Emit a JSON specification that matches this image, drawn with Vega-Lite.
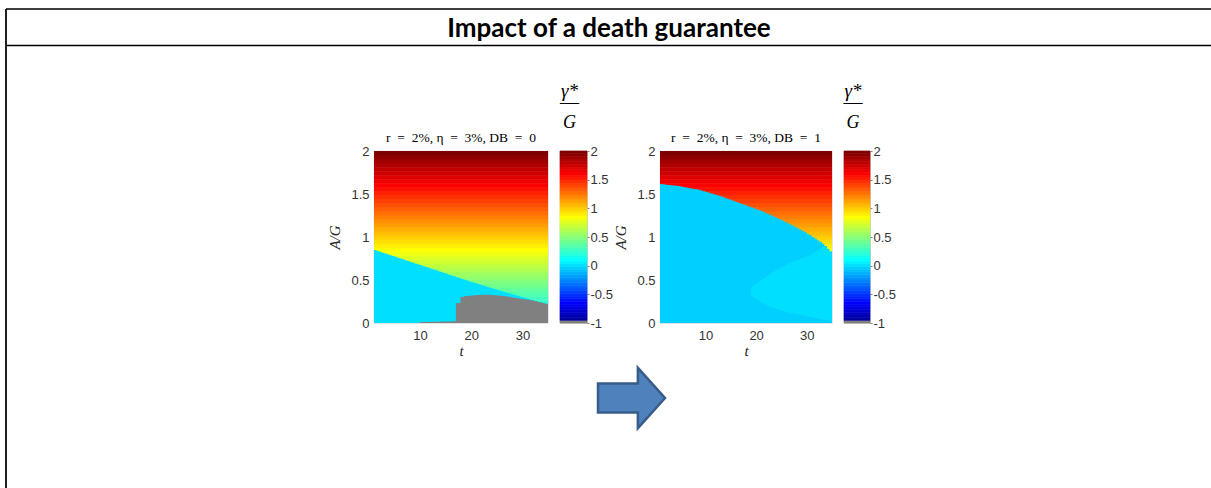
{
"$schema": "https://vega.github.io/schema/vega-lite/v6.json",
"padding": {"left": 4, "top": 7, "right": 0, "bottom": 0},
"background": "white",
"config": {
  "view": {"stroke": null},
  "axis": {"labelFont": "Liberation Sans", "labelFontSize": 13, "labelColor": "#333333", "ticks": false, "domain": false, "grid": false, "titleFont": "Liberation Serif", "titleFontStyle": "italic", "titleFontWeight": "normal", "titleFontSize": 15, "titleColor": "#262626"}
},
"datasets": {
  "bands": [
    {"k":0,"lo":-1,"hi":-0.953125},{"k":1,"lo":-0.953125,"hi":-0.90625},{"k":2,"lo":-0.90625,"hi":-0.859375},{"k":3,"lo":-0.859375,"hi":-0.8125},
    {"k":4,"lo":-0.8125,"hi":-0.765625},{"k":5,"lo":-0.765625,"hi":-0.71875},{"k":6,"lo":-0.71875,"hi":-0.671875},{"k":7,"lo":-0.671875,"hi":-0.625},
    {"k":8,"lo":-0.625,"hi":-0.578125},{"k":9,"lo":-0.578125,"hi":-0.53125},{"k":10,"lo":-0.53125,"hi":-0.484375},{"k":11,"lo":-0.484375,"hi":-0.4375},
    {"k":12,"lo":-0.4375,"hi":-0.390625},{"k":13,"lo":-0.390625,"hi":-0.34375},{"k":14,"lo":-0.34375,"hi":-0.296875},{"k":15,"lo":-0.296875,"hi":-0.25},
    {"k":16,"lo":-0.25,"hi":-0.203125},{"k":17,"lo":-0.203125,"hi":-0.15625},{"k":18,"lo":-0.15625,"hi":-0.109375},{"k":19,"lo":-0.109375,"hi":-0.0625},
    {"k":20,"lo":-0.0625,"hi":-0.015625},{"k":21,"lo":-0.015625,"hi":0.03125},{"k":22,"lo":0.03125,"hi":0.078125},{"k":23,"lo":0.078125,"hi":0.125},
    {"k":24,"lo":0.125,"hi":0.171875},{"k":25,"lo":0.171875,"hi":0.21875},{"k":26,"lo":0.21875,"hi":0.265625},{"k":27,"lo":0.265625,"hi":0.3125},
    {"k":28,"lo":0.3125,"hi":0.359375},{"k":29,"lo":0.359375,"hi":0.40625},{"k":30,"lo":0.40625,"hi":0.453125},{"k":31,"lo":0.453125,"hi":0.5},
    {"k":32,"lo":0.5,"hi":0.546875},{"k":33,"lo":0.546875,"hi":0.59375},{"k":34,"lo":0.59375,"hi":0.640625},{"k":35,"lo":0.640625,"hi":0.6875},
    {"k":36,"lo":0.6875,"hi":0.734375},{"k":37,"lo":0.734375,"hi":0.78125},{"k":38,"lo":0.78125,"hi":0.828125},{"k":39,"lo":0.828125,"hi":0.875},
    {"k":40,"lo":0.875,"hi":0.921875},{"k":41,"lo":0.921875,"hi":0.96875},{"k":42,"lo":0.96875,"hi":1.015625},{"k":43,"lo":1.015625,"hi":1.0625},
    {"k":44,"lo":1.0625,"hi":1.109375},{"k":45,"lo":1.109375,"hi":1.15625},{"k":46,"lo":1.15625,"hi":1.203125},{"k":47,"lo":1.203125,"hi":1.25},
    {"k":48,"lo":1.25,"hi":1.296875},{"k":49,"lo":1.296875,"hi":1.34375},{"k":50,"lo":1.34375,"hi":1.390625},{"k":51,"lo":1.390625,"hi":1.4375},
    {"k":52,"lo":1.4375,"hi":1.484375},{"k":53,"lo":1.484375,"hi":1.53125},{"k":54,"lo":1.53125,"hi":1.578125},{"k":55,"lo":1.578125,"hi":1.625},
    {"k":56,"lo":1.625,"hi":1.671875},{"k":57,"lo":1.671875,"hi":1.71875},{"k":58,"lo":1.71875,"hi":1.765625},{"k":59,"lo":1.765625,"hi":1.8125},
    {"k":60,"lo":1.8125,"hi":1.859375},{"k":61,"lo":1.859375,"hi":1.90625},{"k":62,"lo":1.90625,"hi":1.953125},{"k":63,"lo":1.953125,"hi":2}
  ],
  "p1cyan": [
    {"t":1,"a":0.848,"k":21},{"t":1.5,"a":0.838,"k":21},{"t":2,"a":0.828,"k":21},{"t":2.5,"a":0.818,"k":21},{"t":3,"a":0.809,"k":21},{"t":3.5,"a":0.799,"k":21},
    {"t":4,"a":0.789,"k":21},{"t":4.5,"a":0.779,"k":21},{"t":5,"a":0.769,"k":21},{"t":5.5,"a":0.759,"k":21},{"t":6,"a":0.75,"k":21},{"t":6.5,"a":0.74,"k":21},
    {"t":7,"a":0.73,"k":21},{"t":7.5,"a":0.72,"k":21},{"t":8,"a":0.71,"k":21},{"t":8.5,"a":0.7,"k":21},{"t":9,"a":0.69,"k":21},{"t":9.5,"a":0.681,"k":21},
    {"t":10,"a":0.671,"k":21},{"t":10.5,"a":0.661,"k":21},{"t":11,"a":0.651,"k":21},{"t":11.5,"a":0.641,"k":21},{"t":12,"a":0.631,"k":21},{"t":12.5,"a":0.622,"k":21},
    {"t":13,"a":0.612,"k":21},{"t":13.5,"a":0.602,"k":21},{"t":14,"a":0.592,"k":21},{"t":14.5,"a":0.582,"k":21},{"t":15,"a":0.572,"k":21},{"t":15.5,"a":0.562,"k":21},
    {"t":16,"a":0.553,"k":21},{"t":16.5,"a":0.543,"k":21},{"t":17,"a":0.533,"k":21},{"t":17.5,"a":0.523,"k":21},{"t":18,"a":0.513,"k":21},{"t":18.5,"a":0.503,"k":21},
    {"t":19,"a":0.494,"k":21},{"t":19.5,"a":0.484,"k":21},{"t":20,"a":0.474,"k":21},{"t":20.5,"a":0.465,"k":21},{"t":21,"a":0.456,"k":21},{"t":21.5,"a":0.447,"k":21},
    {"t":22,"a":0.438,"k":21},{"t":22.5,"a":0.429,"k":21},{"t":23,"a":0.42,"k":21},{"t":23.5,"a":0.411,"k":21},{"t":24,"a":0.402,"k":21},{"t":24.5,"a":0.393,"k":21},
    {"t":25,"a":0.385,"k":21},{"t":25.5,"a":0.376,"k":21},{"t":26,"a":0.367,"k":21},{"t":26.5,"a":0.358,"k":21},{"t":27,"a":0.349,"k":21},{"t":27.5,"a":0.341,"k":21},
    {"t":28,"a":0.332,"k":21},{"t":28.5,"a":0.323,"k":21},{"t":29,"a":0.315,"k":21},{"t":29.5,"a":0.306,"k":21},{"t":30,"a":0.297,"k":21},{"t":30.5,"a":0.288,"k":21},
    {"t":31,"a":0.28,"k":21},{"t":31.5,"a":0.271,"k":21},{"t":32,"a":0.262,"k":21},{"t":32.5,"a":0.254,"k":21},{"t":33,"a":0.245,"k":21},{"t":33.5,"a":0.238,"k":21},
    {"t":34,"a":0.231,"k":21},{"t":34.5,"a":0.225,"k":21},{"t":35,"a":0.221,"k":21}
  ],
  "p1gray": [
    {"t":10,"a":0.012,"k":0},{"t":12,"a":0.015,"k":0},{"t":14,"a":0.018,"k":0},{"t":16,"a":0.021,"k":0},{"t":17,"a":0.233,"k":0},{"t":17.9,"a":0.302,"k":0},
    {"t":18.5,"a":0.31,"k":0},{"t":19,"a":0.313,"k":0},{"t":19.5,"a":0.316,"k":0},{"t":20,"a":0.32,"k":0},{"t":20.5,"a":0.323,"k":0},{"t":21,"a":0.325,"k":0},
    {"t":21.5,"a":0.327,"k":0},{"t":22,"a":0.328,"k":0},{"t":22.5,"a":0.329,"k":0},{"t":23,"a":0.329,"k":0},{"t":23.5,"a":0.328,"k":0},{"t":24,"a":0.326,"k":0},
    {"t":24.5,"a":0.324,"k":0},{"t":25,"a":0.321,"k":0},{"t":25.5,"a":0.318,"k":0},{"t":26,"a":0.314,"k":0},{"t":26.5,"a":0.31,"k":0},{"t":27,"a":0.306,"k":0},
    {"t":27.5,"a":0.301,"k":0},{"t":28,"a":0.296,"k":0},{"t":28.5,"a":0.292,"k":0},{"t":29,"a":0.287,"k":0},{"t":29.5,"a":0.283,"k":0},{"t":30,"a":0.278,"k":0},
    {"t":30.5,"a":0.274,"k":0},{"t":31,"a":0.269,"k":0},{"t":31.5,"a":0.265,"k":0},{"t":32,"a":0.26,"k":0},{"t":32.5,"a":0.254,"k":0},{"t":33,"a":0.245,"k":0},
    {"t":33.5,"a":0.238,"k":0},{"t":34,"a":0.231,"k":0},{"t":34.5,"a":0.225,"k":0},{"t":35,"a":0.221,"k":0}
  ],
  "p2main": [
    {"t":1,"a":1.616,"k":20},{"t":1.5,"a":1.613,"k":20},{"t":2,"a":1.609,"k":20},{"t":2.5,"a":1.606,"k":20},{"t":3,"a":1.602,"k":20},{"t":3.5,"a":1.599,"k":20},
    {"t":4,"a":1.595,"k":20},{"t":4.5,"a":1.592,"k":20},{"t":5,"a":1.587,"k":20},{"t":5.5,"a":1.582,"k":20},{"t":6,"a":1.576,"k":20},{"t":6.5,"a":1.57,"k":20},
    {"t":7,"a":1.565,"k":20},{"t":7.5,"a":1.559,"k":20},{"t":8,"a":1.554,"k":20},{"t":8.5,"a":1.548,"k":20},{"t":9,"a":1.541,"k":20},{"t":9.5,"a":1.532,"k":20},
    {"t":10,"a":1.523,"k":20},{"t":10.5,"a":1.514,"k":20},{"t":11,"a":1.506,"k":20},{"t":11.5,"a":1.497,"k":20},{"t":12,"a":1.488,"k":20},{"t":12.5,"a":1.479,"k":20},
    {"t":13,"a":1.47,"k":20},{"t":13.5,"a":1.459,"k":20},{"t":14,"a":1.448,"k":20},{"t":14.5,"a":1.438,"k":20},{"t":15,"a":1.427,"k":20},{"t":15.5,"a":1.416,"k":20},
    {"t":16,"a":1.406,"k":20},{"t":16.5,"a":1.395,"k":20},{"t":17,"a":1.385,"k":20},{"t":17.5,"a":1.374,"k":20},{"t":18,"a":1.363,"k":20},{"t":18.5,"a":1.353,"k":20},
    {"t":19,"a":1.342,"k":20},{"t":19.5,"a":1.331,"k":20},{"t":20,"a":1.321,"k":20},{"t":20.5,"a":1.31,"k":20},{"t":21,"a":1.298,"k":20},{"t":21.5,"a":1.285,"k":20},
    {"t":22,"a":1.272,"k":20},{"t":22.5,"a":1.259,"k":20},{"t":23,"a":1.246,"k":20},{"t":23.5,"a":1.232,"k":20},{"t":24,"a":1.219,"k":20},{"t":24.5,"a":1.206,"k":20},
    {"t":25,"a":1.193,"k":20},{"t":25.5,"a":1.178,"k":20},{"t":26,"a":1.163,"k":20},{"t":26.5,"a":1.148,"k":20},{"t":27,"a":1.133,"k":20},{"t":27.5,"a":1.118,"k":20},
    {"t":28,"a":1.103,"k":20},{"t":28.5,"a":1.088,"k":20},{"t":29,"a":1.071,"k":20},{"t":29.5,"a":1.054,"k":20},{"t":30,"a":1.036,"k":20},{"t":30.5,"a":1.019,"k":20},
    {"t":31,"a":1.001,"k":20},{"t":31.5,"a":0.982,"k":20},{"t":32,"a":0.963,"k":20},{"t":32.5,"a":0.944,"k":20},{"t":33,"a":0.921,"k":20},{"t":33.5,"a":0.894,"k":20},
    {"t":34,"a":0.864,"k":20},{"t":34.5,"a":0.831,"k":20},{"t":35,"a":0.815,"k":20}
  ],
  "p2light": [
    {"t":18.9,"a":0.37,"b":0.37,"k":21},{"t":19,"a":0.4,"b":0.335,"k":21},{"t":19.3,"a":0.425,"b":0.31,"k":21},{"t":19.8,"a":0.45,"b":0.285,"k":21},
    {"t":20.2,"a":0.465,"b":0.27,"k":21},{"t":21,"a":0.5,"b":0.24,"k":21},{"t":22,"a":0.535,"b":0.21,"k":21},{"t":23.5,"a":0.6,"b":0.174,"k":21},
    {"t":25,"a":0.645,"b":0.145,"k":21},{"t":26.8,"a":0.7,"b":0.116,"k":21},{"t":28.5,"a":0.74,"b":0.095,"k":21},{"t":30.1,"a":0.775,"b":0.078,"k":21},
    {"t":31.5,"a":0.82,"b":0.06,"k":21},{"t":32.7,"a":0.87,"b":0.047,"k":21},{"t":33.5,"a":0.89,"b":0.036,"k":21},{"t":34.3,"a":0.84,"b":0.028,"k":21},
    {"t":35,"a":0.81,"b":0.02,"k":21}
  ]
},
"bounds": "flush",
"spacing": 0,
"resolve": {"scale": {"x": "independent", "y": "independent", "color": "independent", "stroke": "independent"}},
"hconcat": [
  {"width": 1, "height": 481, "view": {"stroke": "transparent"}, "data": {"values": [{"edge": 1}]}, "mark": {"type": "rule", "stroke": "black", "strokeWidth": 1.75},
   "encoding": {"x": {"field": "edge", "type": "quantitative", "scale": {"domain": [0, 1]}, "axis": null}}},
  {
    "bounds": "flush",
    "spacing": 0,
    "resolve": {"scale": {"x": "independent", "y": "independent", "color": "independent", "stroke": "independent"}},
    "vconcat": [
      {
        "width": 1206, "height": 36.5,
        "view": {"stroke": "transparent", "fill": null},
        "layer": [
          {"data": {"values": [{"line": "top", "from": 0, "to": 1}, {"line": "bottom", "from": 0, "to": 1}]}, "mark": {"type": "rule", "stroke": "black", "strokeWidth": 1.5},
           "encoding": {
             "y": {"field": "line", "type": "nominal", "scale": {"type": "point", "domain": ["top", "bottom"], "padding": 0}, "axis": null},
             "x": {"field": "from", "type": "quantitative", "scale": {"domain": [0, 1]}, "axis": null},
             "x2": {"field": "to"}
           }},
          {"data": {"values": [{"heading": "Impact of a death guarantee"}]}, "mark": {"type": "text", "font": "Lato", "fontWeight": "bold", "fontSize": 26, "dx": 0, "dy": 2, "color": "black"},
           "encoding": {"text": {"field": "heading"}}}
        ]
      },
      {
        "bounds": "flush",
        "spacing": 0,
        "resolve": {"scale": {"x": "independent", "y": "independent", "color": "independent", "stroke": "independent"}},
        "hconcat": [
          {"width": 368, "height": 1, "view": {"stroke": "transparent"}, "data": {"values": []}, "mark": "point", "encoding": {}},
          {
            "bounds": "flush",
            "spacing": 0,
            "resolve": {"scale": {"x": "independent", "y": "independent", "color": "independent", "stroke": "independent"}},
            "vconcat": [
              {"width": 1, "height": 104.5, "view": {"stroke": "transparent"}, "data": {"values": []}, "mark": "point", "encoding": {}},
              {
                "bounds": "flush",
                "columns": 6,
                "spacing": {"row": 44, "column": 12},
                "resolve": {"scale": {"x": "independent", "y": "independent", "color": "independent", "stroke": "independent"}},
                "concat": [
                  {
                    "width": 174, "height": 172,
                    "view": {"stroke": "#cccccc", "strokeWidth": 0.75},
                    "title": {"text": "r\u2002=\u20022%, η\u2002=\u20023%, DB\u2002=\u20020", "font": "Liberation Serif", "fontSize": 13.5, "fontWeight": "normal", "color": "black", "offset": 1, "anchor": "middle"},
                    "layer": [
                      {"data": {"name": "bands"}, "transform": [{"filter": "datum.hi > 0"}], "mark": {"type": "rect", "clip": true, "strokeWidth": 0.6},
                       "encoding": {
                         "y": {"field": "lo", "type": "quantitative", "scale": {"domain": [0, 2], "nice": false, "zero": false}, "axis": {"values": [0, 0.5, 1, 1.5, 2], "labelExpr": "'' + datum.value", "title": "A/G", "labelPadding": 5, "titlePadding": 8}},
                         "y2": {"field": "hi"},
                         "color": {"field": "k", "type": "quantitative", "legend": null, "scale": {"type": "linear", "domain": [0, 0.5, 1, 7, 23, 39, 55, 63], "range": ["#808080", "#808080", "#0000a0", "#0000ff", "#00ffff", "#ffff00", "#ff0000", "#800000"], "interpolate": "rgb", "clamp": true}},
                         "stroke": {"field": "k", "type": "quantitative", "legend": null, "scale": {"type": "linear", "domain": [0, 0.5, 1, 7, 23, 39, 55, 63], "range": ["#808080", "#808080", "#0000a0", "#0000ff", "#00ffff", "#ffff00", "#ff0000", "#800000"], "interpolate": "rgb", "clamp": true}}
                       }},
                      {"data": {"name": "p1cyan"}, "mark": {"type": "area", "interpolate": "step-after"},
                       "encoding": {
                         "x": {"field": "t", "type": "quantitative", "scale": {"domain": [1, 35], "nice": false, "zero": false}, "axis": {"values": [10, 20, 30], "title": "t", "labelPadding": 6, "titlePadding": 1}},
                         "y": {"field": "a", "type": "quantitative", "stack": null, "scale": {"domain": [0, 2], "nice": false, "zero": false}},
                         "color": {"field": "k", "type": "quantitative", "legend": null, "scale": {"type": "linear", "domain": [0, 0.5, 1, 7, 23, 39, 55, 63], "range": ["#808080", "#808080", "#0000a0", "#0000ff", "#00ffff", "#ffff00", "#ff0000", "#800000"], "interpolate": "rgb", "clamp": true}}
                       }},
                      {"data": {"name": "p1gray"}, "mark": {"type": "area", "interpolate": "step-after"},
                       "encoding": {
                         "x": {"field": "t", "type": "quantitative", "scale": {"domain": [1, 35], "nice": false, "zero": false}},
                         "y": {"field": "a", "type": "quantitative", "stack": null, "scale": {"domain": [0, 2], "nice": false, "zero": false}},
                         "color": {"field": "k", "type": "quantitative", "legend": null, "scale": {"type": "linear", "domain": [0, 0.5, 1, 7, 23, 39, 55, 63], "range": ["#808080", "#808080", "#0000a0", "#0000ff", "#00ffff", "#ffff00", "#ff0000", "#800000"], "interpolate": "rgb", "clamp": true}}
                       }}
                    ]
                  },
                  {
                    "width": 27, "height": 172,
                    "view": {"stroke": "#a0a0a0", "strokeWidth": 0.75},
                    "title": {"text": ["γ*", "―"], "subtitle": "G", "font": "Liberation Serif", "fontStyle": "italic", "fontWeight": "normal", "fontSize": 19, "lineHeight": 11, "subtitleFont": "Liberation Serif", "subtitleFontStyle": "italic", "subtitleFontSize": 18, "subtitlePadding": 2, "subtitleColor": "black", "color": "black", "offset": 13, "anchor": "middle", "dx": -4},
                    "data": {"name": "bands"},
                    "mark": {"type": "rect", "strokeWidth": 0.6},
                    "encoding": {
                      "y": {"field": "lo", "type": "quantitative", "scale": {"domain": [-1, 2], "nice": false, "zero": false}, "axis": {"orient": "right", "values": [-1, -0.5, 0, 0.5, 1, 1.5, 2], "labelExpr": "'' + datum.value", "title": null, "ticks": true, "tickSize": 2, "tickColor": "#808080", "tickWidth": 1, "labelPadding": 1}},
                      "y2": {"field": "hi"},
                      "color": {"field": "k", "type": "quantitative", "legend": null, "scale": {"type": "linear", "domain": [0, 0.5, 1, 7, 23, 39, 55, 63], "range": ["#808080", "#808080", "#0000a0", "#0000ff", "#00ffff", "#ffff00", "#ff0000", "#800000"], "interpolate": "rgb", "clamp": true}},
                      "stroke": {"field": "k", "type": "quantitative", "legend": null, "scale": {"type": "linear", "domain": [0, 0.5, 1, 7, 23, 39, 55, 63], "range": ["#808080", "#808080", "#0000a0", "#0000ff", "#00ffff", "#ffff00", "#ff0000", "#800000"], "interpolate": "rgb", "clamp": true}}
                    }
                  },
                  {"width": 4, "height": 1, "view": {"stroke": "transparent"}, "data": {"values": []}, "mark": "point", "encoding": {}},
                  {"width": 33, "height": 1, "view": {"stroke": "transparent"}, "data": {"values": []}, "mark": "point", "encoding": {}},
                  {
                    "width": 172, "height": 172,
                    "view": {"stroke": "#cccccc", "strokeWidth": 0.75},
                    "title": {"text": "r\u2002=\u20022%, η\u2002=\u20023%, DB\u2002=\u20021", "font": "Liberation Serif", "fontSize": 13.5, "fontWeight": "normal", "color": "black", "offset": 1, "anchor": "middle"},
                    "layer": [
                      {"data": {"name": "bands"}, "transform": [{"filter": "datum.hi > 0"}], "mark": {"type": "rect", "clip": true, "strokeWidth": 0.6},
                       "encoding": {
                         "y": {"field": "lo", "type": "quantitative", "scale": {"domain": [0, 2], "nice": false, "zero": false}, "axis": {"values": [0, 0.5, 1, 1.5, 2], "labelExpr": "'' + datum.value", "title": "A/G", "labelPadding": 5, "titlePadding": 8}},
                         "y2": {"field": "hi"},
                         "color": {"field": "k", "type": "quantitative", "legend": null, "scale": {"type": "linear", "domain": [0, 0.5, 1, 7, 23, 39, 55, 63], "range": ["#808080", "#808080", "#0000a0", "#0000ff", "#00ffff", "#ffff00", "#ff0000", "#800000"], "interpolate": "rgb", "clamp": true}},
                         "stroke": {"field": "k", "type": "quantitative", "legend": null, "scale": {"type": "linear", "domain": [0, 0.5, 1, 7, 23, 39, 55, 63], "range": ["#808080", "#808080", "#0000a0", "#0000ff", "#00ffff", "#ffff00", "#ff0000", "#800000"], "interpolate": "rgb", "clamp": true}}
                       }},
                      {"data": {"name": "p2main"}, "mark": {"type": "area", "interpolate": "step-after"},
                       "encoding": {
                         "x": {"field": "t", "type": "quantitative", "scale": {"domain": [1, 35], "nice": false, "zero": false}, "axis": {"values": [10, 20, 30], "title": "t", "labelPadding": 6, "titlePadding": 1}},
                         "y": {"field": "a", "type": "quantitative", "stack": null, "scale": {"domain": [0, 2], "nice": false, "zero": false}},
                         "color": {"field": "k", "type": "quantitative", "legend": null, "scale": {"type": "linear", "domain": [0, 0.5, 1, 7, 23, 39, 55, 63], "range": ["#808080", "#808080", "#0000a0", "#0000ff", "#00ffff", "#ffff00", "#ff0000", "#800000"], "interpolate": "rgb", "clamp": true}}
                       }},
                      {"data": {"name": "p2light"}, "mark": {"type": "area", "interpolate": "monotone"},
                       "encoding": {
                         "x": {"field": "t", "type": "quantitative", "scale": {"domain": [1, 35], "nice": false, "zero": false}},
                         "y": {"field": "a", "type": "quantitative", "stack": null, "scale": {"domain": [0, 2], "nice": false, "zero": false}},
                         "y2": {"field": "b"},
                         "color": {"field": "k", "type": "quantitative", "legend": null, "scale": {"type": "linear", "domain": [0, 0.5, 1, 7, 23, 39, 55, 63], "range": ["#808080", "#808080", "#0000a0", "#0000ff", "#00ffff", "#ffff00", "#ff0000", "#800000"], "interpolate": "rgb", "clamp": true}}
                       }}
                    ]
                  },
                  {
                    "width": 26, "height": 172,
                    "view": {"stroke": "#a0a0a0", "strokeWidth": 0.75},
                    "title": {"text": ["γ*", "―"], "subtitle": "G", "font": "Liberation Serif", "fontStyle": "italic", "fontWeight": "normal", "fontSize": 19, "lineHeight": 11, "subtitleFont": "Liberation Serif", "subtitleFontStyle": "italic", "subtitleFontSize": 18, "subtitlePadding": 2, "subtitleColor": "black", "color": "black", "offset": 13, "anchor": "middle", "dx": -4},
                    "data": {"name": "bands"},
                    "mark": {"type": "rect", "strokeWidth": 0.6},
                    "encoding": {
                      "y": {"field": "lo", "type": "quantitative", "scale": {"domain": [-1, 2], "nice": false, "zero": false}, "axis": {"orient": "right", "values": [-1, -0.5, 0, 0.5, 1, 1.5, 2], "labelExpr": "'' + datum.value", "title": null, "ticks": true, "tickSize": 2, "tickColor": "#808080", "tickWidth": 1, "labelPadding": 1}},
                      "y2": {"field": "hi"},
                      "color": {"field": "k", "type": "quantitative", "legend": null, "scale": {"type": "linear", "domain": [0, 0.5, 1, 7, 23, 39, 55, 63], "range": ["#808080", "#808080", "#0000a0", "#0000ff", "#00ffff", "#ffff00", "#ff0000", "#800000"], "interpolate": "rgb", "clamp": true}},
                      "stroke": {"field": "k", "type": "quantitative", "legend": null, "scale": {"type": "linear", "domain": [0, 0.5, 1, 7, 23, 39, 55, 63], "range": ["#808080", "#808080", "#0000a0", "#0000ff", "#00ffff", "#ffff00", "#ff0000", "#800000"], "interpolate": "rgb", "clamp": true}}
                    }
                  },
                  {"width": 1, "height": 1, "view": {"stroke": "transparent"}, "data": {"values": []}, "mark": "point", "encoding": {}},
                  {"width": 1, "height": 1, "view": {"stroke": "transparent"}, "data": {"values": []}, "mark": "point", "encoding": {}},
                  {"width": 1, "height": 1, "view": {"stroke": "transparent"}, "data": {"values": []}, "mark": "point", "encoding": {}},
                  {"width": 33, "height": 62, "view": {"stroke": "transparent"}, "data": {"values": [{"shape": "arrow"}]},
                   "mark": {"type": "point", "shape": "M-1,-0.43L0.19,-0.43L0.19,-0.9L1,0L0.19,0.9L0.19,0.43L-1,0.43Z", "size": 4489, "filled": true, "fill": "#4f81bd", "stroke": "#385d8a", "strokeWidth": 2.5, "opacity": 1, "fillOpacity": 1, "strokeOpacity": 1},
                   "encoding": {}},
                  {"width": 1, "height": 1, "view": {"stroke": "transparent"}, "data": {"values": []}, "mark": "point", "encoding": {}},
                  {"width": 1, "height": 1, "view": {"stroke": "transparent"}, "data": {"values": []}, "mark": "point", "encoding": {}}
                ]
              }
            ]
          }
        ]
      }
    ]
  }
]
}
